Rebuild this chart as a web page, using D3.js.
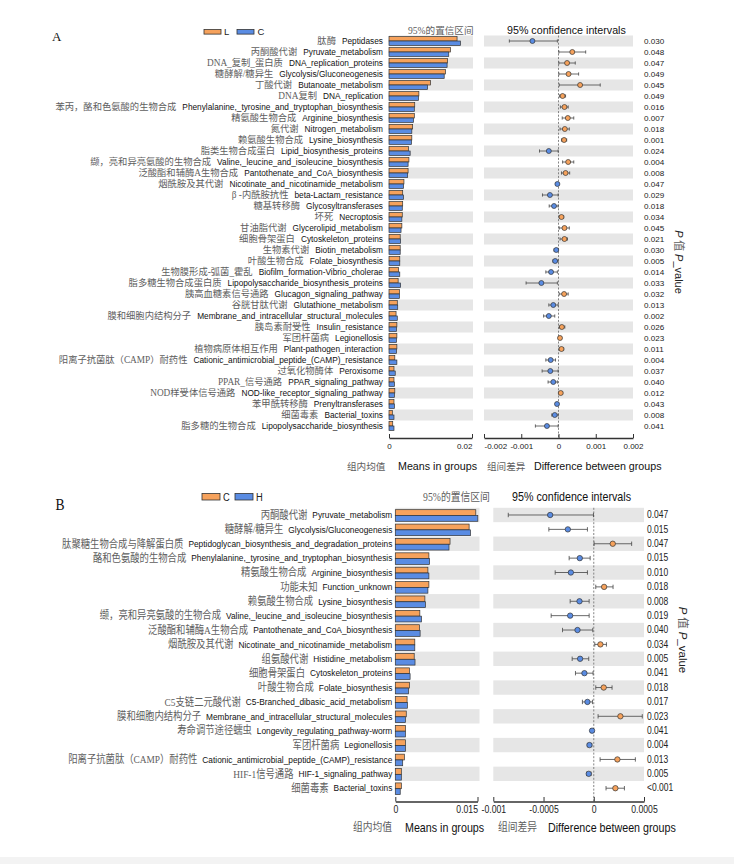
<!DOCTYPE html>
<html><head><meta charset="utf-8">
<script src="https://cdn.jsdelivr.net/npm/d3@7/dist/d3.min.js"></script>
<style>body{margin:0;background:#fff}</style>
</head><body>
<svg id="c" width="734" height="864"></svg>
<script>
// ---------------- Panel A data ----------------
const aLegend = ["L", "C"];
const aPathwaysEn = ["Peptidases","Pyruvate_metabolism","DNA_replication_proteins","Glycolysis/Gluconeogenesis","Butanoate_metabolism","DNA_replication","Phenylalanine,_tyrosine_and_tryptophan_biosynthesis","Arginine_biosynthesis","Nitrogen_metabolism","Lysine_biosynthesis","Lipid_biosynthesis_proteins","Valine,_leucine_and_isoleucine_biosynthesis","Pantothenate_and_CoA_biosynthesis","Nicotinate_and_nicotinamide_metabolism","beta-Lactam_resistance","Glycosyltransferases","Necroptosis","Glycerolipid_metabolism","Cytoskeleton_proteins","Biotin_metabolism","Folate_biosynthesis","Biofilm_formation-Vibrio_cholerae","Lipopolysaccharide_biosynthesis_proteins","Glucagon_signaling_pathway","Glutathione_metabolism","Membrane_and_intracellular_structural_molecules","Insulin_resistance","Legionellosis","Plant-pathogen_interaction","Cationic_antimicrobial_peptide_(CAMP)_resistance","Peroxisome","PPAR_signaling_pathway","NOD-like_receptor_signaling_pathway","Prenyltransferases","Bacterial_toxins","Lipopolysaccharide_biosynthesis"];
const aPathwaysZh = ["肽酶","丙酮酸代谢","DNA_复制_蛋白质","糖酵解/糖异生","丁酸代谢","DNA复制","苯丙，酪和色氨酸的生物合成","精氨酸生物合成","氮代谢","赖氨酸生物合成","脂类生物合成蛋白","缬，亮和异亮氨酸的生物合成","泛酸酯和辅酶A生物合成","烟酰胺及其代谢","β -内酰胺抗性","糖基转移酶","坏死","甘油脂代谢","细胞骨架蛋白","生物素代谢","叶酸生物合成","生物膜形成-弧菌_霍乱","脂多糖生物合成蛋白质","胰高血糖素信号通路","谷胱甘肽代谢","膜和细胞内结构分子","胰岛素耐受性","军团杆菌病","植物病原体相互作用","阳离子抗菌肽（CAMP）耐药性","过氧化物酶体","PPAR_信号通路","NOD样受体信号通路","苯甲酰转移酶","细菌毒素","脂多糖的生物合成"];
const aMeanL = [0.0164,0.0148,0.0141,0.0136,0.0100,0.0072,0.0062,0.0061,0.0057,0.0055,0.0047,0.0048,0.0046,0.0036,0.0033,0.0033,0.0032,0.0031,0.0027,0.0027,0.0026,0.0023,0.0022,0.0025,0.0020,0.0017,0.0019,0.0019,0.0019,0.0014,0.0012,0.0012,0.0014,0.0012,0.0008,0.0009];
const aMeanC = [0.0172,0.0144,0.0140,0.0133,0.0093,0.0071,0.0061,0.0059,0.0055,0.0054,0.0051,0.0046,0.0045,0.0035,0.0035,0.0032,0.0031,0.0029,0.0028,0.0027,0.0026,0.0026,0.0028,0.0025,0.0021,0.0020,0.0018,0.0018,0.0018,0.0019,0.0015,0.0013,0.0013,0.0013,0.0012,0.0012];
const aDiff  = [-0.00070,0.00037,0.00023,0.00027,0.00058,0.00011,0.00016,0.00025,0.00017,0.00015,-0.00026,0.00026,0.00019,-0.00003,-0.00023,-0.00012,0.00008,0.00016,0.00016,-0.00006,-0.00009,-0.00020,-0.00046,0.00015,-0.00014,-0.00026,0.00009,0.00004,0.00008,-0.00021,-0.00022,-0.00014,0.00006,-0.00004,-0.00010,-0.00031];
const aLower = [-0.00132,0.00001,0.00001,0.00001,0.00002,0.00003,0.00005,0.00010,0.00004,0.00008,-0.00051,0.00011,0.00008,-0.00007,-0.00043,-0.00025,0.00002,0.00002,0.00004,-0.00012,-0.00015,-0.00034,-0.00087,0.00002,-0.00026,-0.00040,0.00002,0.00000,0.00002,-0.00034,-0.00044,-0.00028,0.00001,-0.00008,-0.00018,-0.00062];
const aUpper = [-0.00003,0.00073,0.00045,0.00054,0.00112,0.00019,0.00026,0.00041,0.00029,0.00022,-0.00001,0.00041,0.00030,-0.00001,-0.00001,-0.00001,0.00014,0.00029,0.00024,-0.00001,-0.00001,-0.00003,-0.00003,0.00026,-0.00001,-0.00010,0.00017,0.00008,0.00014,-0.00008,-0.00001,-0.00003,0.00011,-0.00001,-0.00001,-0.00001];
const aPValues = ["0.030","0.048","0.047","0.049","0.045","0.049","0.016","0.007","0.018","0.001","0.024","0.004","0.008","0.047","0.029","0.018","0.034","0.045","0.021","0.030","0.005","0.014","0.033","0.032","0.013","0.002","0.026","0.023","0.011","0.004","0.037","0.040","0.012","0.043","0.008","0.041"];
const aBarTicks = [0, 0.02];
const aDiffTicks = [-0.002, -0.001, 0, 0.001, 0.002];

// ---------------- Panel B data ----------------
const bLegend = ["C", "H"];
const bPathwaysEn = ["Pyruvate_metabolism","Glycolysis/Gluconeogenesis","Peptidoglycan_biosynthesis_and_degradation_proteins","Phenylalanine,_tyrosine_and_tryptophan_biosynthesis","Arginine_biosynthesis","Function_unknown","Lysine_biosynthesis","Valine,_leucine_and_isoleucine_biosynthesis","Pantothenate_and_CoA_biosynthesis","Nicotinate_and_nicotinamide_metabolism","Histidine_metabolism","Cytoskeleton_proteins","Folate_biosynthesis","C5-Branched_dibasic_acid_metabolism","Membrane_and_intracellular_structural_molecules","Longevity_regulating_pathway-worm","Legionellosis","Cationic_antimicrobial_peptide_(CAMP)_resistance","HIF-1_signaling_pathway","Bacterial_toxins"];
const bPathwaysZh = ["丙酮酸代谢","糖酵解/糖异生","肽聚糖生物合成与降解蛋白质","酪和色氨酸的生物合成","精氨酸生物合成","功能未知","赖氨酸生物合成","缬，亮和异亮氨酸的生物合成","泛酸酯和辅酶A生物合成","烟酰胺及其代谢","组氨酸代谢","细胞骨架蛋白","叶酸生物合成","C5支链二元酸代谢","膜和细胞内结构分子","寿命调节途径蠕虫","军团杆菌病","阳离子抗菌肽（CAMP）耐药性","HIF-1信号通路","细菌毒素"];
const bMeanC = [0.01469,0.01347,0.00999,0.00613,0.00595,0.00613,0.00540,0.00448,0.00440,0.00356,0.00345,0.00257,0.00257,0.00215,0.00200,0.00184,0.00184,0.00165,0.00110,0.00110];
const bMeanH = [0.01506,0.01371,0.00980,0.00625,0.00613,0.00595,0.00550,0.00477,0.00453,0.00356,0.00360,0.00270,0.00240,0.00220,0.00184,0.00184,0.00184,0.00135,0.00110,0.00090];
const bDiff  = [-0.000434,-0.000258,0.000189,-0.000139,-0.000228,0.000103,-0.000142,-0.000235,-0.000162,0.000066,-0.000136,-0.000093,0.000099,-0.000063,0.000265,-0.000017,-0.000043,0.000235,-0.000050,0.000215];
const bLower = [-0.000851,-0.000447,0.000003,-0.000245,-0.000384,0.000020,-0.000235,-0.000424,-0.000311,0.000010,-0.000215,-0.000182,0.000020,-0.000113,0.000043,-0.000030,-0.000063,0.000063,-0.000070,0.000122];
const bUpper = [-0.000003,-0.000063,0.000377,-0.000036,-0.000063,0.000192,-0.000046,-0.000046,-0.000010,0.000126,-0.000050,-0.000007,0.000182,-0.000013,0.000483,-0.000003,-0.000020,0.000414,-0.000027,0.000305];
const bPValues = ["0.047","0.015","0.047","0.015","0.010","0.018","0.008","0.019","0.040","0.034","0.005","0.041","0.018","0.017","0.023","0.041","0.004","0.013","0.005","<0.001"];
const bBarTicks = [0, 0.015];
const bDiffTicks = [-0.001, -0.0005, 0, 0.0005];

// ---------------- drawing ----------------
const ORANGE = "#F6A25C", BLUE = "#5A8CE3", BAND = "#E6E6E6", INK = "#333";
const SANS = "'Liberation Sans', Arial, Helvetica, sans-serif";
const SERIFZH = "'Liberation Serif', 'Noto Sans CJK SC', serif";
const ZHCOL = "#5e5e5e";
const svg = d3.select("#c");

svg.append("rect").attr("x",0).attr("y",857).attr("width",734).attr("height",7).attr("fill","#f3f3f3");

function txt(g, x, y, s, o) {
  return g.append("text")
    .attr("transform", `translate(${x},${y}) scale(${o.sx || 1},1)`)
    .attr("font-family", o.ff || SANS).attr("font-size", o.fs)
    .attr("fill", o.fill || "#222").attr("text-anchor", o.anchor || "start")
    .attr("dominant-baseline", "central").text(s);
}

function panel(P) {
  const g = svg.append("g");
  const n = P.en.length;
  const y = d3.scaleBand().domain(d3.range(n)).range([P.top, P.top + n * P.step]);
  const xb = d3.scaleLinear().domain(P.barDomain).range(P.barRange);
  const xd = d3.scaleLinear().domain(P.diffDomain).range(P.diffRange);
  const bw = y.bandwidth();
  const cy = i => y(i) + bw / 2;
  const even = d3.range(n).filter(i => i % 2 === 0);

  // background bands
  g.selectAll(null).data(even).join("rect")
    .attr("x", P.barRange[0]).attr("width", P.bandBarEnd - P.barRange[0])
    .attr("y", i => y(i)).attr("height", bw).attr("fill", BAND);
  g.selectAll(null).data(even).join("rect")
    .attr("x", P.diffRange[0]).attr("width", P.diffRange[1] - P.diffRange[0])
    .attr("y", i => y(i)).attr("height", bw).attr("fill", BAND);

  // bars
  const bh = P.barH;
  g.selectAll(null).data(P.m1).join("rect")
    .attr("x", xb(0)).attr("y", (d, i) => cy(i) + P.barOff - bh)
    .attr("width", d => xb(d) - xb(0)).attr("height", bh)
    .attr("fill", ORANGE).attr("stroke", INK).attr("stroke-width", 0.7);
  g.selectAll(null).data(P.m2).join("rect")
    .attr("x", xb(0)).attr("y", (d, i) => cy(i) + P.barOff)
    .attr("width", d => xb(d) - xb(0)).attr("height", bh)
    .attr("fill", BLUE).attr("stroke", INK).attr("stroke-width", 0.7);

  // zero line
  g.append("line").attr("x1", xd(0)).attr("x2", xd(0))
    .attr("y1", P.top).attr("y2", P.axisY)
    .attr("stroke", "#777").attr("stroke-width", 0.9).attr("stroke-dasharray", "2,1.6");

  // error bars
  const idx = d3.range(n);
  g.selectAll(null).data(idx).join("line")
    .attr("x1", i => xd(P.lo[i])).attr("x2", i => xd(P.hi[i]))
    .attr("y1", cy).attr("y2", cy).attr("stroke", "#444").attr("stroke-width", 0.8);
  [P.lo, P.hi].forEach(arr => {
    g.selectAll(null).data(idx).join("line")
      .attr("x1", i => xd(arr[i])).attr("x2", i => xd(arr[i]))
      .attr("y1", i => cy(i) - P.cap).attr("y2", i => cy(i) + P.cap)
      .attr("stroke", "#444").attr("stroke-width", 0.8);
  });
  g.selectAll(null).data(idx).join("circle")
    .attr("cx", i => xd(P.diff[i])).attr("cy", cy).attr("r", P.r)
    .attr("fill", i => P.diff[i] > 0 ? ORANGE : BLUE)
    .attr("stroke", INK).attr("stroke-width", 0.7);

  // labels
  idx.forEach(i => {
    const t = txt(g, P.labelX, cy(i), P.en[i], { fs: P.enFs, sx: P.sx, anchor: "end", fill: "#111" });
    const w = t.node().getComputedTextLength() * P.sx;
    txt(g, P.labelX - w - P.gap, cy(i), P.zh[i], { fs: P.zhFs, sx: P.sx, anchor: "end", ff: SERIFZH, fill: ZHCOL });
    txt(g, P.pX, cy(i) + P.pOff, P.p[i], { fs: P.pFs, sx: P.sx, fill: "#222" });
  });

  // axes
  function axis(scale, ticks, firstAnchor, lastAnchor) {
    const ax = d3.axisBottom(scale).tickValues(ticks).tickSizeInner(-P.tickLen)
      .tickSizeOuter(0).tickPadding(P.tickPad).tickFormat(d => String(d));
    const ga = g.append("g").attr("transform", `translate(0,${P.axisY})`).call(ax);
    ga.select(".domain").attr("stroke", INK).attr("stroke-width", 1.3);
    ga.selectAll(".tick line").attr("stroke", INK).attr("stroke-width", 1);
    const last = ticks.length - 1;
    ga.selectAll(".tick text").attr("font-family", SANS).attr("font-size", P.tickFs)
      .attr("fill", "#222").attr("transform", `scale(${P.sx},1)`)
      .attr("text-anchor", (d, i) => i === 0 ? firstAnchor : (i === last ? lastAnchor : "middle"));
    return ga;
  }
  axis(xb, P.barTicks, "middle", "end");
  axis(xd, P.diffTicks, P.diffFirstAnchor, "middle");

  // titles
  const T = P.titles;
  txt(g, T.letter[0], T.letter[1], P.letter, { fs: T.letterFs, sx: P.sx, ff: "'Liberation Serif', serif", fill: "#111" });
  // legend
  g.append("rect").attr("x", T.leg[0]).attr("y", T.leg[1]).attr("width", T.legW).attr("height", T.legH)
    .attr("fill", ORANGE).attr("stroke", INK).attr("stroke-width", 0.8);
  txt(g, T.leg[2], T.leg[1] + T.legH / 2, P.legend[0], { fs: T.legFs, sx: P.sx });
  g.append("rect").attr("x", T.leg[3]).attr("y", T.leg[1]).attr("width", T.legW).attr("height", T.legH)
    .attr("fill", BLUE).attr("stroke", INK).attr("stroke-width", 0.8);
  txt(g, T.leg[4], T.leg[1] + T.legH / 2, P.legend[1], { fs: T.legFs, sx: P.sx });

  txt(g, T.ciZh[0], T.ciZh[1], "95%的置信区间", { fs: T.zhFs, sx: P.sx, ff: SERIFZH, fill: ZHCOL });
  txt(g, T.ciEn[0], T.ciEn[1], "95% confidence intervals", { fs: T.enFs, sx: P.sx, fill: "#111" });
  txt(g, T.ax[0], T.axY, "组内均值", { fs: T.zhFs, sx: P.sx, ff: SERIFZH, fill: ZHCOL });
  txt(g, T.ax[1], T.axY, "Means in groups", { fs: T.enFs, sx: P.sx, fill: "#111" });
  txt(g, T.ax[2], T.axY, "组间差异", { fs: T.zhFs, sx: P.sx, ff: SERIFZH, fill: ZHCOL });
  txt(g, T.ax[3], T.axY, "Difference between groups", { fs: T.enFs, sx: P.sx, fill: "#111" });

  // rotated p-value title
  const pt = g.append("text").attr("transform", `translate(${T.pv[0]},${T.pv[1]}) rotate(90)`)
    .attr("text-anchor", "middle").attr("dominant-baseline", "central")
    .attr("font-size", T.pvFs).attr("font-family", SANS).attr("fill", "#222");
  pt.append("tspan").attr("font-style", "italic").text("P");
  pt.append("tspan").attr("font-family", SERIFZH).attr("fill", ZHCOL).text(" 值  ");
  pt.append("tspan").attr("font-style", "italic").text("P");
  pt.append("tspan").text("_value");
}

panel({
  letter: "A", legend: aLegend,
  en: aPathwaysEn, zh: aPathwaysZh, m1: aMeanL, m2: aMeanC,
  diff: aDiff, lo: aLower, hi: aUpper, p: aPValues,
  barTicks: aBarTicks, diffTicks: aDiffTicks, diffFirstAnchor: "start",
  top: 35.5, step: 11,
  barDomain: [0, 0.02], barRange: [389, 472], bandBarEnd: 473,
  diffDomain: [-0.002, 0.002], diffRange: [484, 633],
  barH: 4.4, barOff: 0, cap: 1.6, r: 2.5,
  axisY: 438, tickLen: 4, tickPad: 5, tickFs: 8,
  labelX: 383, enFs: 8.3, zhFs: 9.3, gap: 6, sx: 1,
  pX: 644, pOff: 0, pFs: 8.1,
  titles: {
    letter: [52, 36], letterFs: 13,
    leg: [204, 29.5, 224, 237, 257.5], legW: 17, legH: 4.6, legFs: 9.5,
    ciZh: [408, 30], ciEn: [507, 30], zhFs: 9.6, enFs: 10.7,
    ax: [347, 398, 487, 534], axY: 466,
    pv: [679, 262], pvFs: 11
  }
});

panel({
  letter: "B", legend: bLegend,
  en: bPathwaysEn, zh: bPathwaysZh, m1: bMeanC, m2: bMeanH,
  diff: bDiff, lo: bLower, hi: bUpper, p: bPValues,
  barTicks: bBarTicks, diffTicks: bDiffTicks, diffFirstAnchor: "middle",
  top: 507.8, step: 14.38,
  barDomain: [0, 0.015], barRange: [395.3, 477.5], bandBarEnd: 479.5,
  diffDomain: [-0.001, 0.0005], diffRange: [493.3, 644],
  barH: 5.8, barOff: 0.5, cap: 2.2, r: 2.7,
  axisY: 801.5, tickLen: 4.5, tickPad: 4, tickFs: 10.2,
  labelX: 392.3, enFs: 9.8, zhFs: 11, gap: 5, sx: 0.85,
  pX: 647, pOff: 0, pFs: 10,
  titles: {
    letter: [55.5, 505], letterFs: 16,
    leg: [202, 493.5, 223, 235, 256], legW: 18, legH: 6.5, legFs: 11,
    ciZh: [423, 497], ciEn: [512, 496], zhFs: 11.5, enFs: 12.6,
    ax: [353, 405, 498, 548], axY: 827,
    pv: [683, 640], pvFs: 11.5
  }
});
</script>
</body></html>
